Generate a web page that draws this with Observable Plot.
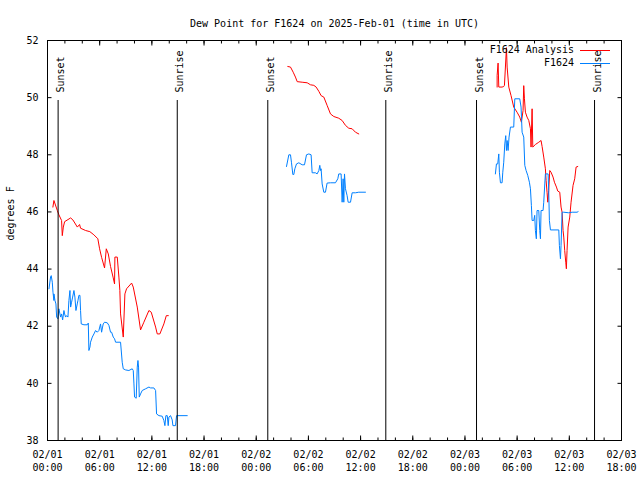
<!DOCTYPE html>
<html><head><meta charset="utf-8">
<script src="https://cdn.jsdelivr.net/npm/d3@7"></script>
<script src="https://cdn.jsdelivr.net/npm/@observablehq/plot@0.6"></script>
<style>body{margin:0;background:#fff}</style>
</head><body><div id="chart"></div>
<script>
// Hours since 2025-02-01 00:00 UTC; null value = gap between segments
const analysisHours = [
  0.62,0.74,1.13,1.31,1.62,1.70,1.82,1.97,2.66,2.92,
  3.43,3.69,3.80,4.38,4.87,5.33,5.79,5.99,6.22,6.56,
  6.76,6.99,7.25,7.56,7.71,7.75,8.02,8.21,8.32,8.40,
  8.71,8.90,9.09,9.67,9.86,10.32,10.70,11.08,11.66,11.93,
  12.43,12.62,12.92,13.38,13.66,13.89,
  20,
  27.63,27.94,28.25,28.51,28.71,29.28,29.86,30.24,30.62,30.89,
  31.20,31.46,31.77,32.15,32.54,32.92,33.49,33.88,34.26,34.64,
  35.03,35.41,35.79,
  45,
  51.70,51.70,51.81,51.89,52.27,52.46,52.54,52.77,52.85,53.04,
  53.30,53.61,53.99,54.30,54.49,54.68,54.76,54.84,54.95,55.14,
  55.34,55.53,55.60,55.72,55.80,56.10,56.49,56.75,56.87,57.06,
  57.25,57.33,57.44,57.52,57.63,57.75,57.90,58.13,58.29,58.52,
  58.67,58.90,59.05,59.17,59.28,59.36,59.47,59.59,59.66,59.74,
  59.86,60.05,60.20,60.43,60.62,60.78,60.97
];
const analysisDewpoint = [
  46.17,46.40,46.05,45.90,45.70,45.17,45.47,45.66,45.79,45.72,
  45.47,45.56,45.43,45.35,45.31,45.20,45.06,44.71,44.41,44.04,
  44.71,44.53,44.09,43.69,43.48,44.42,44.42,43.72,43.25,42.43,
  41.62,43.13,43.31,43.51,43.37,42.67,41.87,42.14,42.55,42.49,
  41.97,41.73,41.73,42.08,42.37,42.37,
  null,
  51.09,51.07,50.89,50.72,50.56,50.54,50.52,50.45,50.43,50.37,
  50.22,50.07,50.02,49.73,49.43,49.34,49.28,49.20,49.03,48.93,
  48.91,48.79,48.73,
  null,
  50.37,50.78,51.21,50.37,50.37,50.39,50.43,51.75,51.07,50.37,
  50.07,49.67,49.49,49.32,49.14,49.55,50.42,49.96,49.49,49.32,
  49.20,48.91,48.27,49.61,48.27,48.36,48.44,48.50,48.29,47.92,
  47.51,47.10,46.69,46.34,46.75,47.45,47.39,47.22,47.04,46.87,
  46.73,46.69,46.17,45.99,45.35,45.12,44.65,44.24,44.01,44.65,
  45.47,45.82,46.34,46.93,47.16,47.57,47.59
];
const obsHours = [
  0.17,0.36,0.43,0.55,0.63,0.74,0.74,0.86,0.97,1.05,
  1.20,1.31,1.43,1.51,1.62,1.74,1.89,1.97,2.08,2.20,
  2.35,2.46,2.58,2.66,2.77,2.89,3.04,3.15,3.27,3.42,
  3.50,3.61,3.73,3.80,3.88,4.19,4.57,4.69,4.76,4.88,
  4.95,5.15,5.34,5.53,5.72,5.91,6.10,6.22,6.33,6.41,
  6.56,6.87,7.06,7.25,7.37,7.56,7.71,7.83,8.40,8.59,
  8.71,8.98,9.36,9.74,9.86,9.94,10.01,10.20,10.32,10.40,
  10.47,10.55,10.70,10.89,11.28,11.66,11.85,12.23,12.43,12.54,
  12.81,13.19,13.38,13.50,13.61,13.77,13.88,13.96,14.15,14.34,
  14.42,14.72,14.84,16.07,
  20,
  27.48,27.75,27.94,28.05,28.21,28.32,28.44,28.63,28.90,29.28,
  29.55,29.78,30.05,30.31,30.43,30.81,31.00,31.20,31.31,31.39,
  31.46,31.58,31.77,31.96,32.15,32.54,33.11,33.38,33.49,33.76,
  33.88,33.99,34.07,34.15,34.26,34.45,34.57,34.84,35.03,35.41,
  35.79,36.56,
  45,
  51.50,51.62,51.77,51.89,51.96,52.08,52.27,52.35,52.46,52.58,
  52.69,52.77,52.85,52.96,53.07,53.23,53.61,53.73,54.30,54.45,
  54.57,54.76,54.88,55.03,55.22,55.41,55.53,55.64,55.72,55.91,
  56.02,56.10,56.21,56.29,56.49,56.60,56.68,56.75,56.98,57.06,
  57.18,57.25,57.56,57.63,57.71,57.83,58.79,58.86,58.98,59.05,
  59.17,59.36,59.93,60.32,60.89,61.01
];
const obsDewpoint = [
  43.31,43.74,43.77,43.54,43.19,42.90,43.13,42.90,42.78,42.32,
  42.26,42.61,42.43,42.32,42.43,42.22,42.55,42.43,42.32,42.37,
  42.32,42.90,43.25,42.67,42.84,43.02,43.25,43.02,42.55,42.78,
  42.90,43.08,43.08,42.55,42.08,42.05,42.05,42.11,41.15,41.27,
  41.44,41.62,41.73,41.85,41.79,41.85,42.08,41.79,41.97,42.08,
  42.14,42.12,42.03,41.79,41.79,41.62,41.56,41.44,41.44,40.74,
  40.51,40.47,40.45,40.51,40.45,39.98,39.52,39.48,40.57,40.80,
  40.57,39.52,39.63,39.75,39.81,39.87,39.84,39.84,39.75,38.93,
  38.87,38.85,38.70,38.52,38.87,38.87,38.52,38.82,38.87,38.72,
  38.52,38.52,38.87,38.87,
  null,
  47.59,48.00,48.00,47.74,47.31,47.31,47.51,47.68,47.72,47.65,
  47.65,48.00,48.03,48.00,47.37,47.37,47.33,47.45,47.63,47.45,
  47.51,46.98,46.69,46.69,47.01,47.02,47.02,47.16,47.33,47.33,
  46.34,47.16,46.34,47.33,46.81,46.57,46.34,46.34,46.67,46.67,
  46.69,46.69,
  null,
  47.33,47.68,47.68,48.03,47.39,47.02,47.02,47.39,47.74,48.38,
  48.67,48.15,48.50,48.15,48.62,48.97,48.97,49.96,49.96,49.67,
  48.79,48.62,47.63,47.45,47.28,47.04,46.81,46.22,45.70,45.70,
  45.88,45.35,45.06,46.05,46.05,45.35,45.06,46.05,46.05,46.34,
  46.98,47.33,47.33,46.75,45.70,45.37,45.37,44.82,44.36,44.82,
  45.99,45.99,45.97,45.99,45.99,46.01
];
const sunHours = [1.22, 14.92, 25.33, 38.9, 49.33, 62.9];
const sunLabels = ["Sunset", "Sunrise", "Sunset", "Sunrise", "Sunset", "Sunrise"];
const yTicks = [38, 40, 42, 44, 46, 48, 50, 52];
const seriesNames = ["F1624 Analysis", "F1624"];
const seriesColors = ["#ff0000", "#0080ff"];
const titleText = "Dew Point for F1624 on 2025-Feb-01 (time in UTC)";
const yLabel = "degrees F";

const t0 = Date.UTC(2025, 1, 1, 0, 0);
const t1 = Date.UTC(2025, 1, 3, 18, 0);
const toDate = h => new Date(t0 + h * 3600e3);

const analysis = analysisHours.map((h, i) => ({t: toDate(h), v: analysisDewpoint[i]}));
const obs = obsHours.map((h, i) => ({t: toDate(h), v: obsDewpoint[i]}));
const sun = sunHours.map((h, i) => ({t: toDate(h), label: sunLabels[i]}));

const majorTicks = d3.utcHour.every(6).range(new Date(t0), new Date(t1 + 1));
const minorTicks = d3.utcHour.every(2).range(new Date(t0), new Date(t1 + 1));
const fmt = d => d3.utcFormat("%m/%d")(d) + "\n" + d3.utcFormat("%H:%M")(d);

const font = "'DejaVu Sans Mono', 'Liberation Mono', monospace";

const plot = Plot.plot({
  width: 640, height: 480,
  marginTop: 40, marginBottom: 40, marginLeft: 47, marginRight: 19,
  style: {fontFamily: font, fontSize: "10px", color: "#000", background: "#fff", overflow: "visible"},
  x: {type: "utc", domain: [new Date(t0), new Date(t1)], label: null},
  y: {domain: [38, 52], label: null},
  marks: [
    Plot.line(analysis, {x: "t", y: "v", stroke: seriesColors[0], strokeWidth: 1}),
    Plot.line(obs, {x: "t", y: "v", stroke: seriesColors[1], strokeWidth: 1}),
    Plot.ruleX(sun, {x: "t", insetTop: 60, stroke: "#000", strokeWidth: 1}),
    Plot.text(sun, {x: "t", frameAnchor: "top", dy: 52, dx: -1, rotate: -90, textAnchor: "start", text: "label", fill: "#000"}),
    Plot.axisX({anchor: "bottom", ticks: minorTicks, tickSize: -2.5, fill: "none", label: null}),
    Plot.axisX({anchor: "bottom", ticks: majorTicks, tickSize: -4.5, fill: "none", label: null}),
    Plot.axisX({anchor: "top", ticks: minorTicks, tickSize: -2.5, fill: "none", label: null}),
    Plot.axisX({anchor: "top", ticks: majorTicks, tickSize: -4.5, fill: "none", label: null}),
    Plot.axisX({anchor: "bottom", ticks: majorTicks, tickSize: 0, tickPadding: 8, tickFormat: fmt, lineHeight: 1.3, label: null}),
    Plot.axisY({anchor: "left", ticks: yTicks, tickSize: -4.5, fill: "none", label: null}),
    Plot.axisY({anchor: "right", ticks: yTicks, tickSize: -4.5, fill: "none", label: null}),
    Plot.axisY({anchor: "left", ticks: yTicks, tickSize: 0, tickPadding: 9, tickFormat: d => String(d), label: null}),
    Plot.frame({stroke: "#000"}),
    Plot.text([titleText], {frameAnchor: "top", dy: -21, text: d => d, fill: "#000"}),
    Plot.text([yLabel], {frameAnchor: "left", dx: -37, rotate: -90, text: d => d, fill: "#000"})
  ]
});

// legend (top right, inside the frame)
const svg = d3.select(plot);
const lg = svg.append("g").attr("font-family", font).attr("font-size", 10);
seriesNames.forEach((name, i) => {
  const y = 50 + i * 13;
  lg.append("text").attr("x", 574).attr("y", y).attr("dy", "0.32em")
    .attr("text-anchor", "end").attr("fill", "#000").text(name);
  lg.append("line").attr("x1", 580).attr("x2", 610).attr("y1", y + 0.5).attr("y2", y + 0.5)
    .attr("stroke", seriesColors[i]).attr("stroke-width", 1);
});

document.getElementById("chart").appendChild(plot);
</script>
</body></html>
